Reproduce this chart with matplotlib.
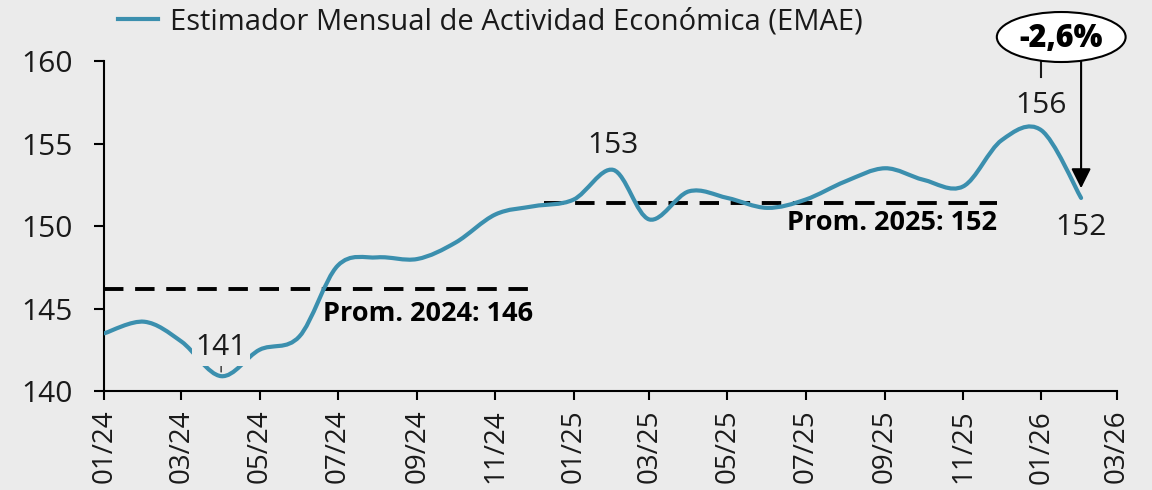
import numpy as np
import pandas as pd
import matplotlib
matplotlib.use('Agg')
import matplotlib.pyplot as plt
import matplotlib.dates as mdates
from matplotlib.path import Path
from matplotlib.patches import PathPatch, Ellipse
from matplotlib.lines import Line2D
from matplotlib.transforms import blended_transform_factory

# monthly EMAE index, Jan-2024 .. Feb-2026
months = pd.date_range('2024-01-01', periods=26, freq='MS')
emae = [143.5, 144.2, 143.0, 140.9, 142.5, 143.3, 147.6, 148.1, 148.0, 149.0, 150.7, 151.2,
        151.6, 153.4, 150.4, 152.1, 151.7, 151.1, 151.6, 152.7, 153.5, 152.8, 152.4, 155.2,
        155.8, 151.7]

serie_label = 'Estimador Mensual de Actividad Económica (EMAE)'

# yearly averages as drawn (dashed lines) and their labels
prom_2024 = 146.2
prom_2025 = 151.4
prom_2024_span = ['2024-01-01', '2024-12-03']
prom_2025_span = ['2024-12-09', '2025-11-27']
prom_2024_text = 'Prom. 2024: 146'
prom_2025_text = 'Prom. 2025: 152'

# highlighted points: (index into emae, text)
idx_min, txt_min = 3, '141'
idx_153, txt_153 = 13, '153'
idx_156, txt_156 = 24, '156'
idx_last, txt_last = 25, '152'
var_text = '-2,6%'

BG = '#EBEBEB'
TEAL = '#3B8FAE'
INK = '#1A1A1A'

plt.rcParams['font.family'] = ['Open Sans', 'DejaVu Sans']


def smooth_path(x, y):
    # excel-like smoothed line: catmull-rom turned into cubic beziers
    pts = np.column_stack([x, y])
    n = len(pts)
    verts = [pts[0]]
    codes = [Path.MOVETO]
    for i in range(n - 1):
        p0 = pts[i - 1] if i > 0 else pts[i]
        p1 = pts[i]
        p2 = pts[i + 1]
        p3 = pts[i + 2] if i + 2 < n else pts[i + 1]
        verts += [p1 + (p2 - p0) / 6.0, p2 - (p3 - p1) / 6.0, p2]
        codes += [Path.CURVE4] * 3
    return Path(verts, codes)


fig = plt.figure(figsize=(11.52, 4.90), dpi=100, facecolor=BG)
ax = fig.add_axes([0.0907, 0.202, 0.8789, 0.6735])
ax.set_facecolor(BG)

x = mdates.date2num(months)
line = PathPatch(smooth_path(x, emae), fill=False, edgecolor=TEAL, lw=3.0,
                 capstyle='round', zorder=3)
ax.add_patch(line)

# yearly averages
for span, val in [(prom_2024_span, prom_2024), (prom_2025_span, prom_2025)]:
    ax.plot(pd.to_datetime(span), [val, val], color='black', lw=2.8,
            dashes=(5, 3), zorder=2)
ax.annotate(prom_2024_text, xy=(pd.Timestamp(prom_2024_span[1]), prom_2024),
            xytext=(-2, -9), textcoords='offset points', ha='right', va='top',
            fontsize=19.5, fontweight='bold', color='black')
ax.annotate(prom_2025_text, xy=(pd.Timestamp(prom_2025_span[1]), prom_2025),
            xytext=(0, -5), textcoords='offset points', ha='right', va='top',
            fontsize=19.5, fontweight='bold', color='black')

# point labels
lab_kw = dict(textcoords='offset points', ha='center', va='baseline',
              fontsize=21.5, color=INK, zorder=5)
ax.annotate(txt_min, xy=(months[idx_min], emae[idx_min]), xytext=(0, 15),
            bbox=dict(boxstyle='square,pad=0.12', fc=BG, ec='none'),
            arrowprops=dict(arrowstyle='-', color=INK, lw=0.9,
                            shrinkA=0, shrinkB=3), **lab_kw)
ax.annotate(txt_153, xy=(months[idx_153], emae[idx_153]), xytext=(0, 12.5), **lab_kw)
ax.annotate(txt_156, xy=(months[idx_156], emae[idx_156]), xytext=(0, 12.5), **lab_kw)
ax.annotate(txt_last, xy=(months[idx_last], emae[idx_last]), xytext=(0, -27), **lab_kw)

# variation bubble above the plot
bt = blended_transform_factory(ax.transData, ax.transAxes)
xc = x[idx_156] + (x[idx_last] - x[idx_156]) / 2
ax.add_patch(Ellipse((xc, 1.0727), width=100.5, height=0.1515, transform=bt,
                     fc='white', ec='black', lw=1.5, clip_on=False, zorder=6))
ax.text(xc, 1.0433, var_text, transform=bt, ha='center', va='baseline',
        fontsize=22, fontweight='heavy', color='black', zorder=7)
ax.plot([x[idx_156], x[idx_156]], [0.9985, 0.9515], transform=bt, color=INK,
        lw=1.5, clip_on=False, zorder=5)
ax.annotate('', xy=(months[idx_last], emae[idx_last]), xycoords='data',
            xytext=(x[idx_last], 0.9985), textcoords=bt,
            arrowprops=dict(arrowstyle='-|>,head_length=0.6,head_width=0.3',
                            mutation_scale=20, color='black', lw=1.5,
                            shrinkA=0, shrinkB=7), zorder=6)

# axes
ax.set_xlim(pd.Timestamp('2024-01-01'), pd.Timestamp('2026-03-01'))
ax.set_ylim(140, 160)
ax.set_yticks([140, 145, 150, 155, 160])
ax.xaxis.set_major_locator(mdates.MonthLocator(bymonth=[1, 3, 5, 7, 9, 11]))
ax.xaxis.set_major_formatter(mdates.DateFormatter('%m/%y'))
for s in ['top', 'right']:
    ax.spines[s].set_visible(False)
for s in ['left', 'bottom']:
    ax.spines[s].set_linewidth(1.5)
    ax.spines[s].set_color('black')
ax.tick_params(axis='y', length=7, width=1.5, pad=16, labelsize=21.5, labelcolor=INK)
ax.tick_params(axis='x', length=6.5, width=1.5, pad=7, labelsize=20, labelcolor=INK,
               labelrotation=90)

handle = Line2D([], [], color=TEAL, lw=3.0)
fig.legend([handle], [serie_label], loc='center left', bbox_to_anchor=(0.1024, 0.955),
           frameon=False, fontsize=21, handlelength=1.37, handletextpad=0.41,
           borderpad=0, borderaxespad=0, labelcolor=INK)

fig.savefig('out.png', dpi=100, facecolor=BG)
